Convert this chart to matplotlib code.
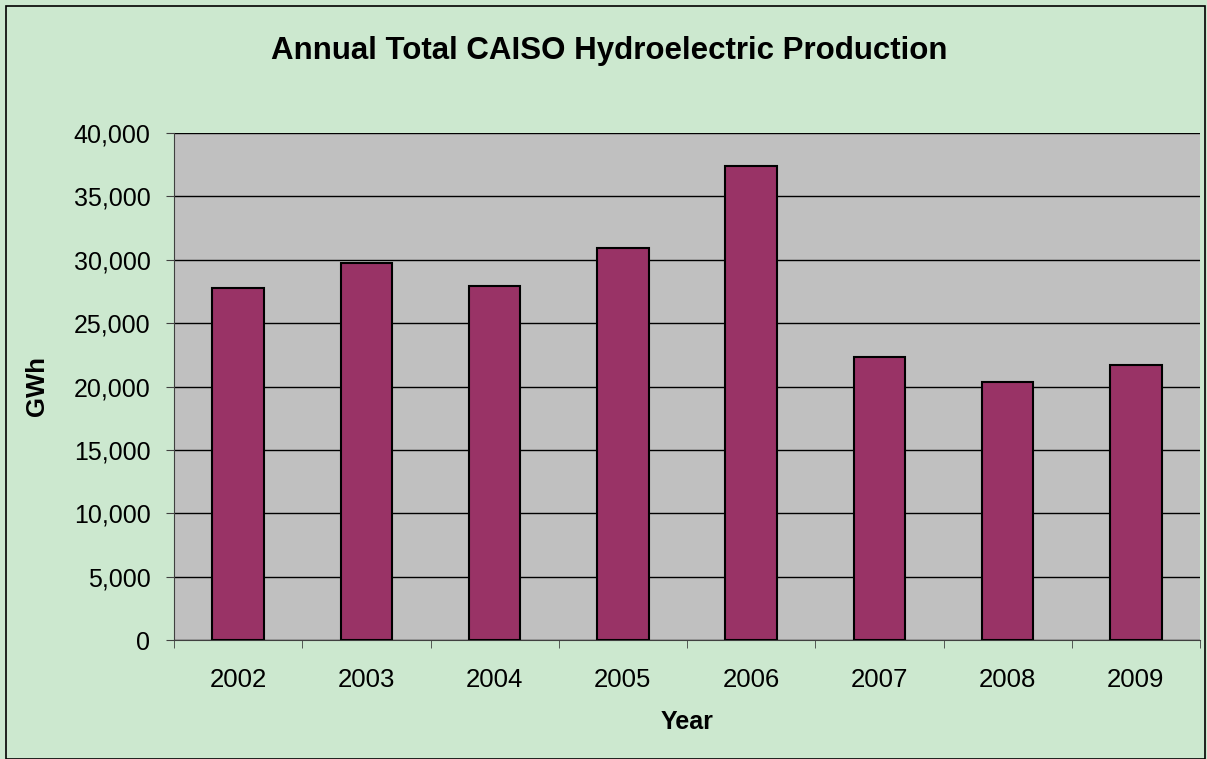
import matplotlib.pyplot as plt
from matplotlib.patches import Rectangle
from matplotlib.ticker import FuncFormatter

years = ['2002', '2003', '2004', '2005', '2006', '2007', '2008', '2009']
gwh = [27750, 29770, 27930, 30900, 37370, 22330, 20330, 21720]

plt.rcParams['font.family'] = ['Liberation Sans', 'DejaVu Sans']

fig = plt.figure(figsize=(12.07, 7.59), dpi=100)
fig.patch.set_facecolor('#CCE8CF')

# Outer chart border
fig.patches.append(Rectangle((6 / 1207, 0), 1199 / 1207, 753 / 759, transform=fig.transFigure,
                             fill=False, edgecolor='black', linewidth=1.2))

ax = fig.add_axes([174 / 1207, 1 - 640 / 759, 1026 / 1207, 507 / 759])
ax.set_facecolor('#C0C0C0')

x = list(range(len(years)))
ax.bar(x, gwh, width=0.4, color='#993366', edgecolor='black', linewidth=1.5, zorder=3)

ax.set_xlim(-0.5, len(years) - 0.5)
ax.set_ylim(0, 40000)
ax.set_yticks(range(0, 40001, 5000))
ax.yaxis.set_major_formatter(FuncFormatter(lambda v, p: f'{int(v):,}'))
ax.grid(axis='y', color='black', linewidth=1, zorder=1)

ax.set_xticks(x)
ax.set_xticklabels(years)
ax.set_xticks([i - 0.5 for i in range(len(years) + 1)], minor=True)
ax.tick_params(axis='x', which='major', length=0, pad=20, labelsize=18.5)
ax.tick_params(axis='x', which='minor', length=6, direction='out', color='#404040')
ax.tick_params(axis='y', length=6, direction='out', color='#404040', pad=11, labelsize=18)

for s in ['top', 'right']:
    ax.spines[s].set_visible(False)
ax.spines['left'].set_color('#404040')
ax.spines['bottom'].set_color('#404040')

ax.set_xlabel('Year', fontsize=18, fontweight='bold', labelpad=13)
ax.set_ylabel('GWh', fontsize=18.5, fontweight='bold', labelpad=18)
fig.text(0.505, 1 - 51 / 759, 'Annual Total CAISO Hydroelectric Production',
         ha='center', va='center', fontsize=22.5, fontweight='bold')

fig.savefig('out.png', dpi=100, facecolor=fig.get_facecolor())
